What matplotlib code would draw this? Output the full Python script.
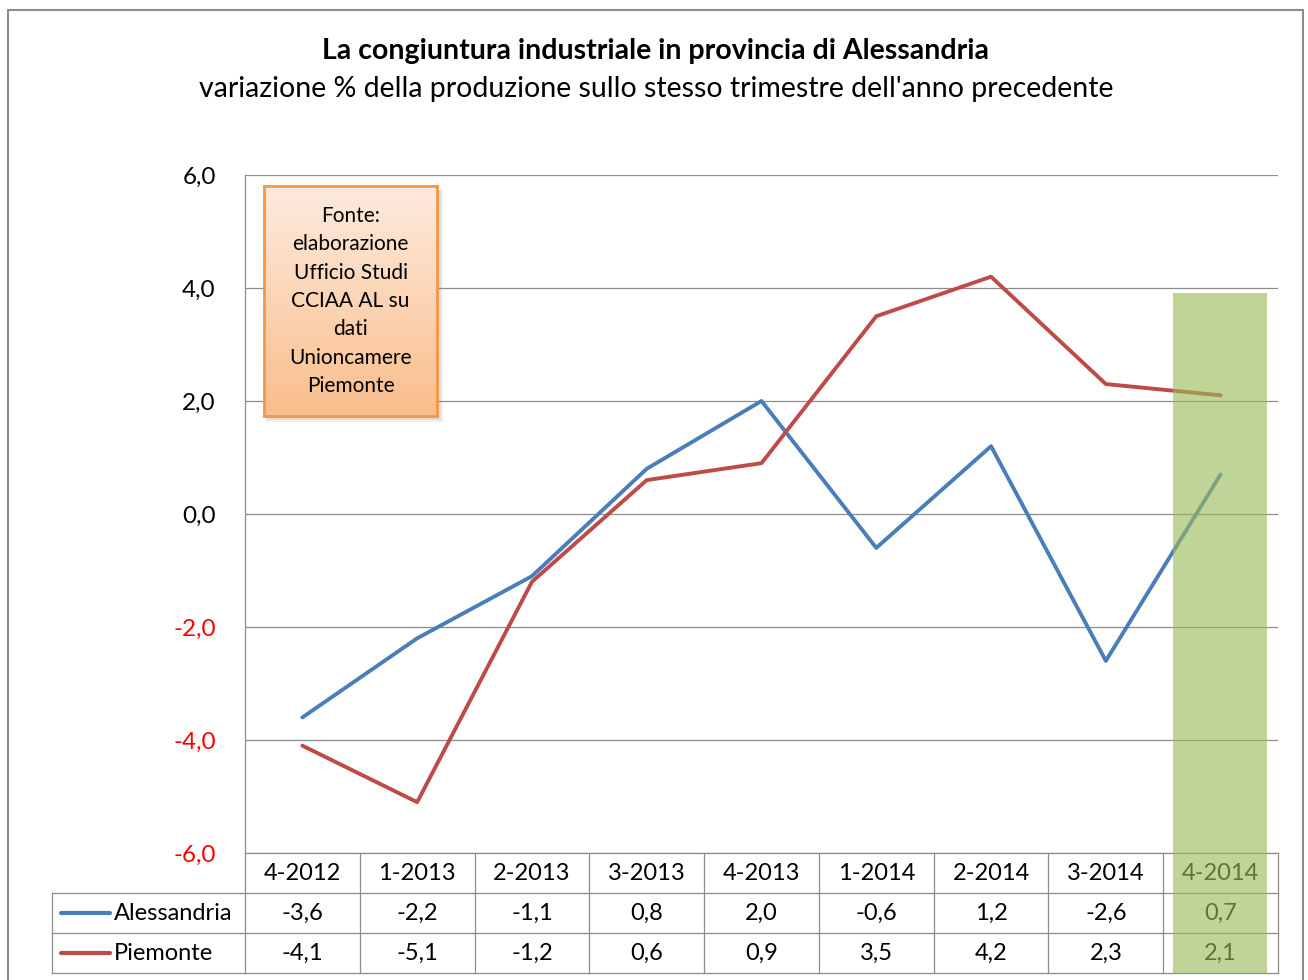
import numpy as np
import matplotlib
matplotlib.use("Agg")
import matplotlib.pyplot as plt
from matplotlib.patches import Rectangle
from matplotlib.lines import Line2D

plt.rcParams['font.family'] = ['Lato', 'DejaVu Sans']

categories = ['4-2012', '1-2013', '2-2013', '3-2013', '4-2013',
              '1-2014', '2-2014', '3-2014', '4-2014']
alessandria = [-3.6, -2.2, -1.1, 0.8, 2.0, -0.6, 1.2, -2.6, 0.7]
piemonte = [-4.1, -5.1, -1.2, 0.6, 0.9, 3.5, 4.2, 2.3, 2.1]
series_names = ['Alessandria', 'Piemonte']
yticks = [-6, -4, -2, 0, 2, 4, 6]

W, H = 1308, 980
def fx(px):
    return px / W
def fy(py):
    return 1 - py / H

blue = '#4A7EBB'
red = '#BE4B48'
grid_c = '#8C8C8C'

fig = plt.figure(figsize=(W / 100, H / 100), dpi=100)
fig.patch.set_facecolor('white')

# outer chart border
fig.patches.append(Rectangle((fx(8), fy(1000)), fx(1303) - fx(8), fy(10) - fy(1000),
                             transform=fig.transFigure, fill=False,
                             edgecolor='#8C8C8C', lw=1.5, zorder=1))

x0, x1, ytop, ybot = 245, 1278, 175, 853
ax = fig.add_axes([fx(x0), fy(ybot), fx(x1) - fx(x0), fy(ytop) - fy(ybot)])
ax.set_xlim(-0.5, len(categories) - 0.5)
ax.set_ylim(-6, 6)
x = np.arange(len(categories))
ax.plot(x, alessandria, color=blue, lw=2.8, solid_capstyle='round', zorder=3)
ax.plot(x, piemonte, color=red, lw=2.8, solid_capstyle='round', zorder=3)

ax.set_yticks(yticks)
ax.set_yticklabels([f"{v:.1f}".replace('.', ',') for v in yticks], fontsize=17.5)
for lab, v in zip(ax.get_yticklabels(), yticks):
    lab.set_color('red' if v < 0 else 'black')
ax.tick_params(axis='y', length=0, pad=21)
ax.set_xticks([])
for yv in yticks:
    ax.axhline(yv, color=grid_c, lw=0.9, zorder=1)
for s in ['top', 'right', 'bottom']:
    ax.spines[s].set_visible(False)
ax.spines['left'].set_color(grid_c)
ax.spines['left'].set_linewidth(0.9)

# titles
fig.text(fx(656), fy(51), 'La congiuntura industriale in provincia di Alessandria',
         ha='center', va='center', fontsize=20.5, fontweight='bold')
fig.text(fx(656), fy(89), "variazione % della produzione sullo stesso trimestre dell'anno precedente",
         ha='center', va='center', fontsize=20.5)

# data table
cw = (x1 - x0) / len(categories)
rows_y = [853, 893, 933, 973]
lkw = dict(transform=fig.transFigure, color=grid_c, lw=0.9, zorder=2)
fig.lines.append(Line2D([fx(x0), fx(x1)], [fy(853)] * 2, **lkw))
for yy in rows_y[1:]:
    fig.lines.append(Line2D([fx(52), fx(x1)], [fy(yy)] * 2, **lkw))
for i in range(len(categories) + 1):
    xx = x0 + i * cw
    fig.lines.append(Line2D([fx(xx)] * 2, [fy(853), fy(973)], **lkw))
fig.lines.append(Line2D([fx(52)] * 2, [fy(893), fy(973)], **lkw))

tfs = 17
for i, c in enumerate(categories):
    cx = x0 + (i + 0.5) * cw
    fig.text(fx(cx), fy(873), c, ha='center', va='center', fontsize=tfs)
    fig.text(fx(cx), fy(913), f"{alessandria[i]:.1f}".replace('.', ','),
             ha='center', va='center', fontsize=tfs)
    fig.text(fx(cx), fy(953), f"{piemonte[i]:.1f}".replace('.', ','),
             ha='center', va='center', fontsize=tfs)

for name, col, yy in zip(series_names, [blue, red], [913, 953]):
    fig.lines.append(Line2D([fx(61), fx(110)], [fy(yy)] * 2, transform=fig.transFigure,
                            color=col, lw=3, solid_capstyle='round', zorder=3))
    fig.text(fx(114), fy(yy), name, ha='left', va='center', fontsize=tfs)

# highlight of the last quarter
fig.patches.append(Rectangle((fx(1173), fy(973)), fx(1267) - fx(1173), fy(293) - fy(973),
                             transform=fig.transFigure, facecolor='#9BBB59',
                             alpha=0.62, edgecolor='none', zorder=10))

# source box with gradient
bx0, bx1, by0, by1 = 264, 437, 186, 416
for k, a in [(6, 0.12), (4, 0.2), (2, 0.3)]:
    fig.patches.append(Rectangle((fx(bx0 + 2), fy(by1 + k)), fx(bx1 + k) - fx(bx0 + 2),
                                 fy(by0 + 4) - fy(by1 + k),
                                 transform=fig.transFigure, facecolor='#909090',
                                 alpha=a, edgecolor='none', zorder=4))
bax = fig.add_axes([fx(bx0), fy(by1), fx(bx1) - fx(bx0), fy(by0) - fy(by1)], zorder=5)
grad = np.linspace(0, 1, 256).reshape(-1, 1)
top_c = np.array([253, 235, 222]) / 255
bot_c = np.array([250, 190, 140]) / 255
img = top_c + (bot_c - top_c) * grad[..., None]
bax.imshow(img, aspect='auto', extent=[0, 1, 0, 1], origin='upper')
bax.set_xticks([])
bax.set_yticks([])
for s in bax.spines.values():
    s.set_color('#F79646')
    s.set_linewidth(2)
bax.text(0.5, 0.5, 'Fonte:\nelaborazione\nUfficio Studi\nCCIAA AL su\ndati\nUnioncamere\nPiemonte',
         ha='center', va='center', fontsize=15, linespacing=1.52,
         transform=bax.transAxes)

fig.savefig('out.png', dpi=100)
